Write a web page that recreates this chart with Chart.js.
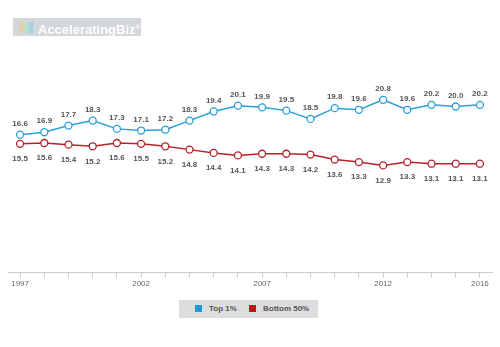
<!DOCTYPE html>
<html>
<head>
<meta charset="utf-8">
<script src="https://cdn.jsdelivr.net/npm/chart.js@4"></script>
<style>
  body { margin: 0; background: #fff; font-family: "Liberation Sans", Arial, sans-serif; }
  #wrap { position: relative; width: 500px; height: 347px; }
  #logo { position: absolute; left: 13px; top: 18px; width: 128px; height: 18px; background: #d3d6da;
          color: #fff; font-weight: bold; font-size: 13px; line-height: 18px; }
  #logo .ic { position: absolute; left: 6px; top: 4px; width: 14px; height: 11px;
              background: linear-gradient(90deg, #f4c9a0, #bfe0c8, #9ccbe8); }
  #logo .tx { position: absolute; left: 25px; top: 0; }
  #logo sup { font-size: 6px; }
  #legend { position: absolute; left: 179px; top: 300px; width: 139px; height: 18px; background: #ddd;
            font-size: 8px; font-weight: bold; color: #555; }
  #legend span.sw { position: absolute; top: 5px; width: 7px; height: 7px; }
  #legend span.lb { position: absolute; top: 4px; }
</style>
</head>
<body>
<div id="wrap">
  <canvas id="myChart" width="500" height="347"></canvas>
  <div id="logo"><div class="ic"></div><div class="tx">AcceleratingBiz<sup>®</sup></div></div>
  <div id="legend">
    <span class="sw" style="left:16px;background:#1a9ad6;"></span><span class="lb" style="left:30px;">Top 1%</span>
    <span class="sw" style="left:70px;background:#c0151c;"></span><span class="lb" style="left:84px;">Bottom 50%</span>
  </div>
</div>
<script>
const years = ['1997', '1998', '1999', '2000', '2001', '2002', '2003', '2004', '2005', '2006',
               '2007', '2008', '2009', '2010', '2011', '2012', '2013', '2014', '2015', '2016'];
const top1 = [16.6, 16.9, 17.7, 18.3, 17.3, 17.1, 17.2, 18.3, 19.4, 20.1,
              19.9, 19.5, 18.5, 19.8, 19.6, 20.8, 19.6, 20.2, 20.0, 20.2];
const bottom50 = [15.5, 15.6, 15.4, 15.2, 15.6, 15.5, 15.2, 14.8, 14.4, 14.1,
                  14.3, 14.3, 14.2, 13.6, 13.3, 12.9, 13.3, 13.1, 13.1, 13.1];
const shownYears = ['1997', '2002', '2007', '2012', '2016'];

// value labels: above the top series, below the bottom one
const valueLabels = {
    id: 'valueLabels',
    afterDatasetsDraw(chart) {
        const ctx = chart.ctx;
        ctx.save();
        ctx.font = 'bold 8px "Liberation Sans", Arial, sans-serif';
        ctx.fillStyle = '#555';
        ctx.textAlign = 'center';
        ctx.textBaseline = 'middle';
        chart.data.datasets.forEach(function (ds, i) {
            const meta = chart.getDatasetMeta(i);
            meta.data.forEach(function (pt, j) {
                const dy = i === 0 ? -11 : 15;
                ctx.fillText(ds.data[j].toFixed(1), pt.x, pt.y + dy);
            });
        });
        ctx.restore();
    }
};

const data = {
    labels: years,
    datasets: [{
        label: 'Top 1%',
        data: top1,
        borderColor: '#2b9fd6',
        backgroundColor: '#fff',
        borderWidth: 1.5,
        pointRadius: 3.5,
        pointBorderWidth: 1.3,
        tension: 0
    }, {
        label: 'Bottom 50%',
        data: bottom50,
        borderColor: '#b5222a',
        backgroundColor: '#fff',
        borderWidth: 1.5,
        pointRadius: 3.5,
        pointBorderWidth: 1.3,
        tension: 0
    }]
};

const config = {
    type: 'line',
    data: data,
    options: {
        responsive: false,
        animation: false,
        layout: { padding: { left: 8, right: 8, top: 65, bottom: 56 } },
        plugins: { legend: { display: false }, tooltip: { enabled: false } },
        scales: {
            y: { display: false, min: 0, max: 25 },
            x: {
                offset: true,
                border: { color: '#ccc', width: 1 },
                grid: { offset: false, drawOnChartArea: false, tickLength: 5, color: '#ccc' },
                ticks: {
                    autoSkip: false,
                    maxRotation: 0,
                    padding: 2,
                    color: '#666',
                    font: { size: 8, family: '"Liberation Sans", Arial, sans-serif' },
                    callback: function (v, i) {
                        const y = this.getLabelForValue(v);
                        return shownYears.indexOf(y) >= 0 ? y : '';
                    }
                }
            }
        }
    },
    plugins: [valueLabels]
};

const myChart = new Chart(document.getElementById('myChart'), config);
</script>
</body>
</html>
